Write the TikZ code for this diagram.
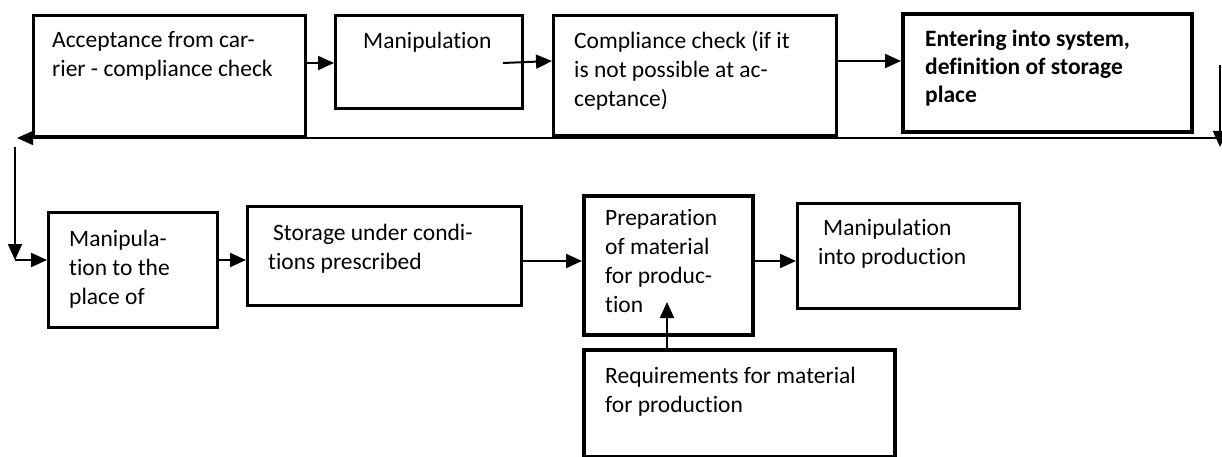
\documentclass[tikz,border=0pt]{standalone}
\usepackage{fontspec}
\setmainfont{Carlito}[Ligatures=NoCommon]
\usetikzlibrary{arrows.meta}
% left-aligned block of lines whose first baseline is the node's base
\newcommand{\boxlines}[1]{\parbox[t]{330pt}{\raggedright #1}}
\begin{document}
\begin{tikzpicture}[x=1pt,y=-1pt,
  box/.style={draw, line width=3.2pt, inner sep=0pt, anchor=north west},
  thickbox/.style={box, line width=4.2pt},
  txt/.style={anchor=base west, inner sep=0pt, font=\fontsize{23.5}{29}\selectfont},
  arr/.style={line width=2pt, -{Triangle[length=16pt,width=14pt]}},
  thinarr/.style={arr, line width=1.4pt}]
\clip (0,0) rectangle (1222,457);
\fill[white] (0,0) rectangle (1222,457);

% process boxes, top row
\node[box, minimum width=272pt, minimum height=121pt] (b1) at (32,14) {};
\node[box, minimum width=187pt, minimum height=93pt] (b2) at (334,14) {};
\node[box, minimum width=283pt, minimum height=120pt] (b3) at (552,14) {};
\node[thickbox, minimum width=289pt, minimum height=118pt] (b4) at (901,12) {};
% process boxes, bottom row
\node[box, minimum width=169pt, minimum height=115pt] (b5) at (47,211) {};
\node[box, minimum width=274pt, minimum height=99pt] (b6) at (246,205) {};
\node[thickbox, minimum width=169pt, minimum height=139pt] (b7) at (582,194) {};
\node[box, minimum width=222pt, minimum height=105pt] (b8) at (796,202) {};
\node[thickbox, minimum width=311pt, minimum height=107pt] (b9) at (582,348) {};

% box texts
\node[txt] (t1) at (52,48) {\boxlines{Acceptance from car-\\rier - compliance check}};
\node[txt] (t2) at (363,49) {\boxlines{Manipulation}};
\node[txt] (t3) at (574,49) {\boxlines{Compliance check (if it\\is not possible at ac-\\ceptance)}};
\node[txt, font=\fontsize{23.5}{28}\selectfont\bfseries] (t4) at (925,47)
  {\boxlines{Entering into system,\\definition of storage\\place}};
\node[txt] (t5) at (69,246) {\boxlines{Manipula-\\tion to the\\place of}};
\node[txt] (t6) at (268,240) {\boxlines{\hspace*{5pt}Storage under condi-\\tions prescribed}};
\node[txt] (t7) at (605,225) {\boxlines{Preparation\\of material\\for produc-\\tion}};
\node[txt] (t8) at (818,235) {\boxlines{\hspace*{5pt}Manipulation\\into production}};
\node[txt] (t9) at (605,383) {\boxlines{Requirements for material\\for production}};

% free ends of the connectors
\coordinate (c23) at (503,63);
\coordinate (rr) at (1222,138);
\coordinate (ll) at (17,138);
\coordinate (rt) at (1220,65);
\coordinate (rb) at (1220,147);
\coordinate (lt) at (15,147);
\coordinate (lc) at (15,260);
\coordinate (c97) at (667,302);

% top row flow
\draw[arr] (b1.east |- 0,63) -- (b2.west |- 0,63);
\draw[arr] (c23) -- (b3.west |- 0,61);
\draw[arr] (b3.east |- 0,61) -- (b4.west |- 0,61);
% return line to the second row
\draw[arr] (rt) -- (rb);
\draw[thinarr] (rr) -- (ll);
\draw[arr] (lt) -- (lc);
\draw[arr] (lc) -- (b5.west |- lc);
% bottom row flow
\draw[arr] (b5.east |- lc) -- (b6.west |- lc);
\draw[arr] (b6.east |- 0,261) -- (b7.west |- 0,261);
\draw[arr] (b7.east |- 0,261) -- (b8.west |- 0,261);
\draw[arr] (b9.north -| c97) -- (c97);
\end{tikzpicture}
\end{document}
